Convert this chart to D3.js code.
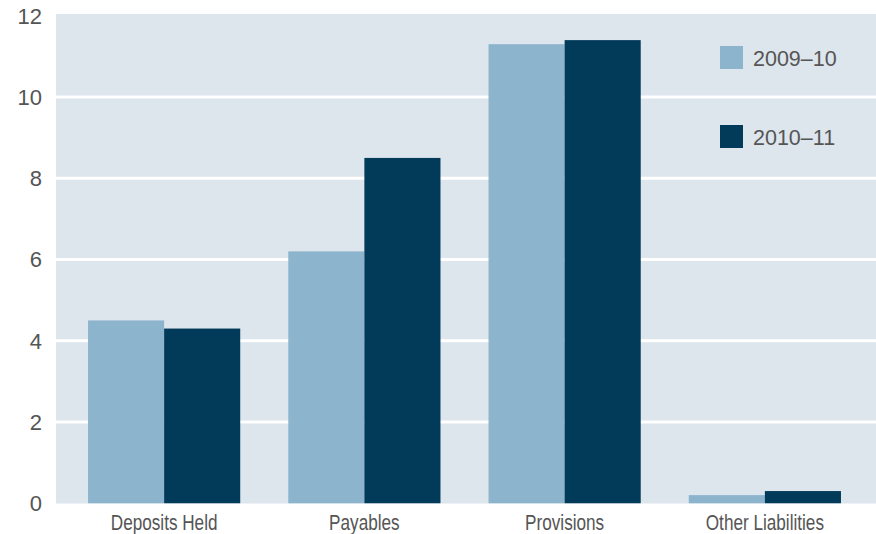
<!DOCTYPE html>
<html><head><meta charset="utf-8">
<script src="https://cdn.jsdelivr.net/npm/d3@7"></script>
<style>body{margin:0;background:#fff;}svg{display:block;}</style>
</head><body>
<svg id="chart" width="876" height="534"></svg>
<script>
const categories = ["Deposits Held", "Payables", "Provisions", "Other Liabilities"];
const seriesNames = ["2009\u201310", "2010\u201311"];
const values2009 = [4.5, 6.2, 11.3, 0.2];
const values2010 = [4.3, 8.5, 11.4, 0.3];
const yTicks = [0, 2, 4, 6, 8, 10, 12];
const colors = ["#8db4cd", "#023a5a"];

const svg = d3.select("#chart");
const plot = {left: 56, right: 876, top: 14, bottom: 503.5};

const x = d3.scaleBand().domain(categories).range([64, 865]).paddingInner(0.24).paddingOuter(0.12);
const xs = d3.scaleBand().domain(seriesNames).range([0, x.bandwidth()]);
const y = d3.scaleLinear().domain([0, 12]).range([503.25, 15.75]);

svg.append("rect").attr("x", plot.left).attr("y", plot.top)
  .attr("width", plot.right - plot.left).attr("height", plot.bottom - plot.top)
  .attr("fill", "#dde5ed");

svg.append("g").selectAll("line").data(yTicks.filter(d => d > 0 && d < 12)).join("line")
  .attr("x1", plot.left).attr("x2", plot.right)
  .attr("y1", d => y(d)).attr("y2", d => y(d))
  .attr("stroke", "#fff").attr("stroke-width", 3);

svg.append("g").selectAll("text").data(yTicks).join("text")
  .attr("x", 42).attr("y", d => y(d)).attr("dy", "0.36em")
  .attr("text-anchor", "end")
  .attr("font-family", "Liberation Sans, Arial, sans-serif").attr("font-size", 22)
  .attr("fill", "#555").text(d => d);

const data = categories.map((c, i) => ({c, vals: [values2009[i], values2010[i]]}));
const g = svg.append("g");
data.forEach(d => {
  d.vals.forEach((v, j) => {
    g.append("rect")
      .attr("x", x(d.c) + xs(seriesNames[j]))
      .attr("width", xs.bandwidth())
      .attr("y", y(v)).attr("height", y(0) - y(v))
      .attr("fill", colors[j]);
  });
});

svg.append("g").selectAll("text").data(categories).join("text")
  .attr("transform", d => `translate(${x(d) + x.bandwidth() / 2},530) scale(0.78,1)`)
  .attr("text-anchor", "middle")
  .attr("font-family", "Liberation Sans, Arial, sans-serif").attr("font-size", 22)
  .attr("fill", "#555").text(d => d);

const leg = svg.append("g");
seriesNames.forEach((s, j) => {
  const yy = 46 + j * 79;
  leg.append("rect").attr("x", 720).attr("y", yy).attr("width", 23).attr("height", 23).attr("fill", colors[j]);
  leg.append("text").attr("x", 753).attr("y", yy + 20)
    .attr("font-family", "Liberation Sans, Arial, sans-serif").attr("font-size", 21.5)
    .attr("fill", "#555").text(s);
});
</script>
</body></html>
